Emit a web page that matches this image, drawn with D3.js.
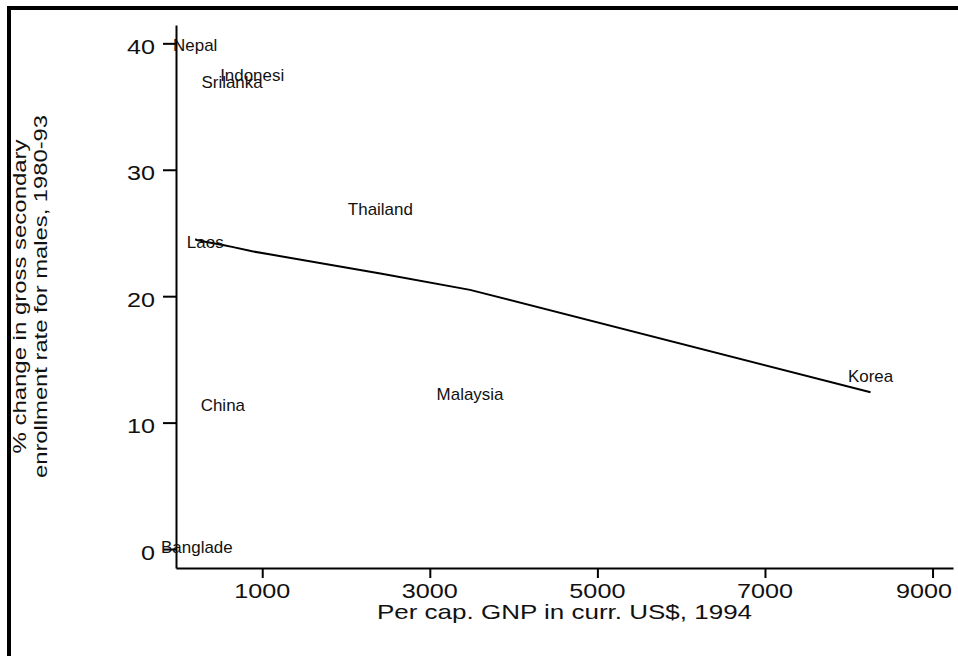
<!DOCTYPE html>
<html>
<head>
<meta charset="utf-8">
<script src="https://cdn.jsdelivr.net/npm/d3@7"></script>
<style>
  body { margin: 0; background: #fff; }
  svg { display: block; }
  text { font-family: "Liberation Sans", Arial, sans-serif; fill: #111; }
</style>
</head>
<body>
<div id="chart"></div>
<script>
// Countries (labels truncated to 8 chars as in the original)
const countries = ["Nepal", "Banglade", "Laos", "China", "Srilanka", "Indonesi", "Thailand", "Malaysia", "Korea"];
// Per cap. GNP, current US$, 1994
const gnp = [200, 220, 320, 530, 640, 880, 2410, 3480, 8260];
// % change in gross secondary enrollment rate for males, 1980-93
const enrollChange = [39.85, 0.17, 24.23, 11.34, 36.9, 37.5, 26.9, 12.25, 13.7];
// smoothed fit at each country's GNP
const fitValues = [24.5, 24.45, 24.3, 24.05, 23.9, 23.55, 21.8, 20.5, 12.4];

const xTicks = [1000, 3000, 5000, 7000, 9000];
const yTicks = [0, 10, 20, 30, 40];

const width = 958;
const height = 656;

const svg = d3.select("#chart").append("svg")
    .attr("width", width)
    .attr("height", height);

svg.append("rect").attr("width", width).attr("height", height).attr("fill", "#fff");

// outer frame (top + left only)
svg.append("rect").attr("x", 7).attr("y", 6).attr("width", width - 7).attr("height", 4).attr("fill", "#000");
svg.append("rect").attr("x", 7).attr("y", 6).attr("width", 4).attr("height", height - 6).attr("fill", "#000");

// scales
const x = d3.scaleLinear().domain([-29, 9244]).range([176, 953]);
const y = d3.scaleLinear().domain([-1.5, 41.45]).range([568, 25]);

// helper for horizontally stretched text
function stretchedText(g, tx, ty, str, size, sx, anchor, rot) {
    return g.append("text")
        .attr("transform", `translate(${tx},${ty})${rot ? ` rotate(${rot})` : ""} scale(${sx},1)`)
        .attr("text-anchor", anchor)
        .style("font-size", size + "px")
        .text(str);
}

// X axis
const xAxis = svg.append("g")
    .attr("transform", `translate(0,${y.range()[0]})`)
    .call(d3.axisBottom(x).tickValues(xTicks).tickSize(10).tickSizeOuter(0).tickFormat(""));
xAxis.select(".domain").attr("stroke", "#000").attr("stroke-width", 2);
xAxis.selectAll(".tick line").attr("stroke", "#000").attr("stroke-width", 2);
xAxis.selectAll(".tick text").remove();
xTicks.forEach(t => {
    const tickSx = 1.2;
    const lbl = stretchedText(svg, x(t), 598, d3.format("d")(t), 21, tickSx, "middle");
    // keep the last label inside the axis end, like the original
    const half = lbl.node().getBBox().width * tickSx / 2;
    const right = x.range()[1] - 1;
    if (x(t) + half > right) {
        lbl.attr("transform", `translate(${right - half},598) scale(${tickSx},1)`);
    }
});

// Y axis
const yAxis = svg.append("g")
    .attr("transform", `translate(${x.range()[0]},0)`)
    .call(d3.axisLeft(y).tickValues(yTicks).tickSize(13).tickSizeOuter(0).tickFormat(""));
yAxis.select(".domain").attr("stroke", "#000").attr("stroke-width", 2);
yAxis.selectAll(".tick line").attr("stroke", "#000").attr("stroke-width", 2);
yAxis.selectAll(".tick text").remove();
yTicks.forEach(t => stretchedText(svg, 155, y(t) + 10.5, String(t), 21, 1.2, "end"));

// axis titles
stretchedText(svg, (x.range()[0] + x.range()[1]) / 2, 619, "Per cap. GNP in curr. US$, 1994", 20, 1.3, "middle");
const yMid = (y.range()[0] + y.range()[1]) / 2;
stretchedText(svg, 26, yMid, "% change in gross secondary", 19, 1.26, "middle", -90);
stretchedText(svg, 46.5, yMid, "enrollment rate for males, 1980-93", 19, 1.25, "middle", -90);

// fitted line
const fitData = gnp.map((g, i) => ({ gnp: g, fit: fitValues[i] }));
svg.append("path")
    .datum(fitData)
    .attr("fill", "none")
    .attr("stroke", "#000")
    .attr("stroke-width", 2)
    .attr("d", d3.line().x(d => x(d.gnp)).y(d => y(d.fit)));

// country labels centred on their points
countries.forEach((c, i) => {
    svg.append("text")
        .attr("transform", `translate(${x(gnp[i])},${y(enrollChange[i])}) scale(1.06,1)`)
        .attr("text-anchor", "middle")
        .attr("dy", "0.36em")
        .style("font-size", "16px")
        .text(c);
});
</script>
</body>
</html>
